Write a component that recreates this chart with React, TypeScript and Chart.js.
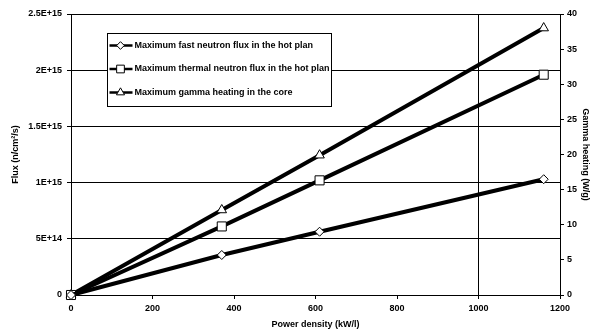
import React, { useEffect, useRef } from 'react';
import { Chart, registerables } from 'chart.js';

Chart.register(...registerables);

const powerDensity = [0, 370, 610, 1160];
const fastFlux = [0, 3.56e14, 5.63e14, 1.03e15];
const thermalFlux = [0, 6.1e14, 1.02e15, 1.96e15];
const gammaHeating = [0, 12.1, 19.9, 38.0];

const fluxTicks = [0, 5e14, 1e15, 1.5e15, 2e15, 2.5e15];
const fluxTickLabels = ['0', '5E+14', '1E+15', '1.5E+15', '2E+15', '2.5E+15'];
const seriesLabels = [
  'Maximum fast neutron flux in the hot plan',
  'Maximum thermal neutron flux in the hot plan',
  'Maximum gamma heating in the core',
];

const FONT = '"Liberation Sans", Arial, sans-serif';

function drawMarker(ctx: CanvasRenderingContext2D, style: string, x: number, y: number, r: number) {
  ctx.beginPath();
  if (style === 'rectRot') {
    ctx.moveTo(x, y - r);
    ctx.lineTo(x + r, y);
    ctx.lineTo(x, y + r);
    ctx.lineTo(x - r, y);
    ctx.closePath();
  } else if (style === 'rect') {
    const s = r * Math.SQRT1_2;
    ctx.rect(x - s, y - s, 2 * s, 2 * s);
  } else {
    ctx.moveTo(x, y - r);
    ctx.lineTo(x + r * 0.866, y + r * 0.5);
    ctx.lineTo(x - r * 0.866, y + r * 0.5);
    ctx.closePath();
  }
  ctx.fillStyle = '#fff';
  ctx.fill();
  ctx.lineWidth = 1;
  ctx.strokeStyle = '#000';
  ctx.stroke();
}

const boxLegend = {
  id: 'boxLegend',
  afterDatasetsDraw(chart: any) {
    const { ctx, chartArea } = chart;
    const x0 = Math.round(chartArea.left + 36) + 0.5;
    const y0 = Math.round(chartArea.top + 19) + 0.5;
    const w = 224;
    const h = 73;
    ctx.save();
    ctx.fillStyle = '#fff';
    ctx.fillRect(x0, y0, w, h);
    ctx.strokeStyle = '#000';
    ctx.lineWidth = 1;
    ctx.strokeRect(x0, y0, w, h);
    chart.data.datasets.forEach((ds: any, i: number) => {
      const y = y0 + 12 + i * 23.5;
      ctx.beginPath();
      ctx.moveTo(x0 + 2, y);
      ctx.lineTo(x0 + 25, y);
      ctx.lineWidth = 2.5;
      ctx.strokeStyle = '#000';
      ctx.stroke();
      drawMarker(ctx, ds.pointStyle, x0 + 13, y, ds.pointRadius * 0.85);
      ctx.fillStyle = '#000';
      ctx.font = `bold 9px ${FONT}`;
      ctx.textBaseline = 'middle';
      ctx.textAlign = 'left';
      ctx.fillText(ds.label, x0 + 27, y);
    });
    ctx.restore();
  },
};

export default function App() {
  const ref = useRef<HTMLCanvasElement | null>(null);
  useEffect(() => {
    document.body.style.margin = '0';
    const canvas = ref.current;
    if (!canvas) return;
    const mk = (ys: number[]) => powerDensity.map((x, i) => ({ x, y: ys[i] }));
    const tickFont = { family: FONT, size: 9, weight: 'bold' };
    const chart = new Chart(canvas, {
      type: 'line',
      data: {
        datasets: [
          {
            label: seriesLabels[0],
            data: mk(fastFlux),
            yAxisID: 'y',
            borderColor: '#000',
            borderWidth: 4,
            pointStyle: 'rectRot',
            pointRadius: 4.5,
            pointBackgroundColor: '#fff',
            pointBorderColor: '#000',
            pointBorderWidth: 1,
            clip: false,
          } as any,
          {
            label: seriesLabels[1],
            data: mk(thermalFlux),
            yAxisID: 'y',
            borderColor: '#000',
            borderWidth: 4,
            pointStyle: 'rect',
            pointRadius: 6.4,
            pointBackgroundColor: '#fff',
            pointBorderColor: '#000',
            pointBorderWidth: 1,
            clip: false,
          } as any,
          {
            label: seriesLabels[2],
            data: mk(gammaHeating),
            yAxisID: 'y1',
            borderColor: '#000',
            borderWidth: 4,
            pointStyle: 'triangle',
            pointRadius: 5.5,
            pointBackgroundColor: '#fff',
            pointBorderColor: '#000',
            pointBorderWidth: 1,
            clip: false,
          } as any,
        ],
      },
      options: {
        responsive: false,
        animation: false,
        layout: { padding: { top: 14, left: 0, right: 0, bottom: 0 } },
        plugins: { legend: { display: false }, tooltip: { enabled: false } },
        scales: {
          x: {
            type: 'linear',
            min: 0,
            max: 1200,
            ticks: {
              stepSize: 200,
              color: '#000',
              font: tickFont,
              padding: 4,
              maxRotation: 0,
              callback: (v: any) => String(v),
            },
            grid: {
              color: (c: any) => (c.tick && c.tick.value === 1000 ? '#000' : 'rgba(0,0,0,0)'),
              tickColor: '#000',
              tickLength: 4,
              lineWidth: 1,
            },
            border: { display: true, color: '#000', width: 1 },
            title: {
              display: true,
              text: 'Power density (kW/l)',
              color: '#000',
              font: tickFont,
              padding: { top: 0, bottom: 4 },
            },
            afterFit: (s: any) => { s.height = 39; },
          },
          y: {
            type: 'linear',
            position: 'left',
            min: 0,
            max: 2.5e15,
            afterBuildTicks: (s: any) => { s.ticks = fluxTicks.map((v) => ({ value: v })); },
            ticks: {
              color: '#000',
              font: tickFont,
              padding: 5,
              callback: (v: any) => {
                const idx = fluxTicks.findIndex((t) => Math.abs(t - Number(v)) < 1e10);
                return idx >= 0 ? fluxTickLabels[idx] : '';
              },
            },
            grid: { color: '#000', tickColor: '#000', tickLength: 4, lineWidth: 1 },
            border: { display: true, color: '#000', width: 1 },
            title: {
              display: true,
              text: 'Flux (n/cm²/s)',
              color: '#000',
              font: tickFont,
              padding: { top: 10, bottom: 0 },
            },
            afterFit: (s: any) => { s.width = 71; },
          },
          y1: {
            type: 'linear',
            position: 'right',
            min: 0,
            max: 40,
            ticks: { stepSize: 5, color: '#000', font: tickFont, padding: 3 },
            grid: { drawOnChartArea: false, tickColor: '#000', tickLength: 4 },
            border: { display: true, color: '#000', width: 1 },
            title: {
              display: true,
              text: 'Gamma heating (W/g)',
              color: '#000',
              font: tickFont,
              padding: { top: 2, bottom: 0 },
            },
            afterFit: (s: any) => { s.width = 33; },
          },
        },
      } as any,
      plugins: [boxLegend],
    });
    return () => chart.destroy();
  }, []);
  return (
    <div style={{ width: 593, height: 334, background: '#fff' }}>
      <canvas ref={ref} width={593} height={334} style={{ display: 'block' }} />
    </div>
  );
}
